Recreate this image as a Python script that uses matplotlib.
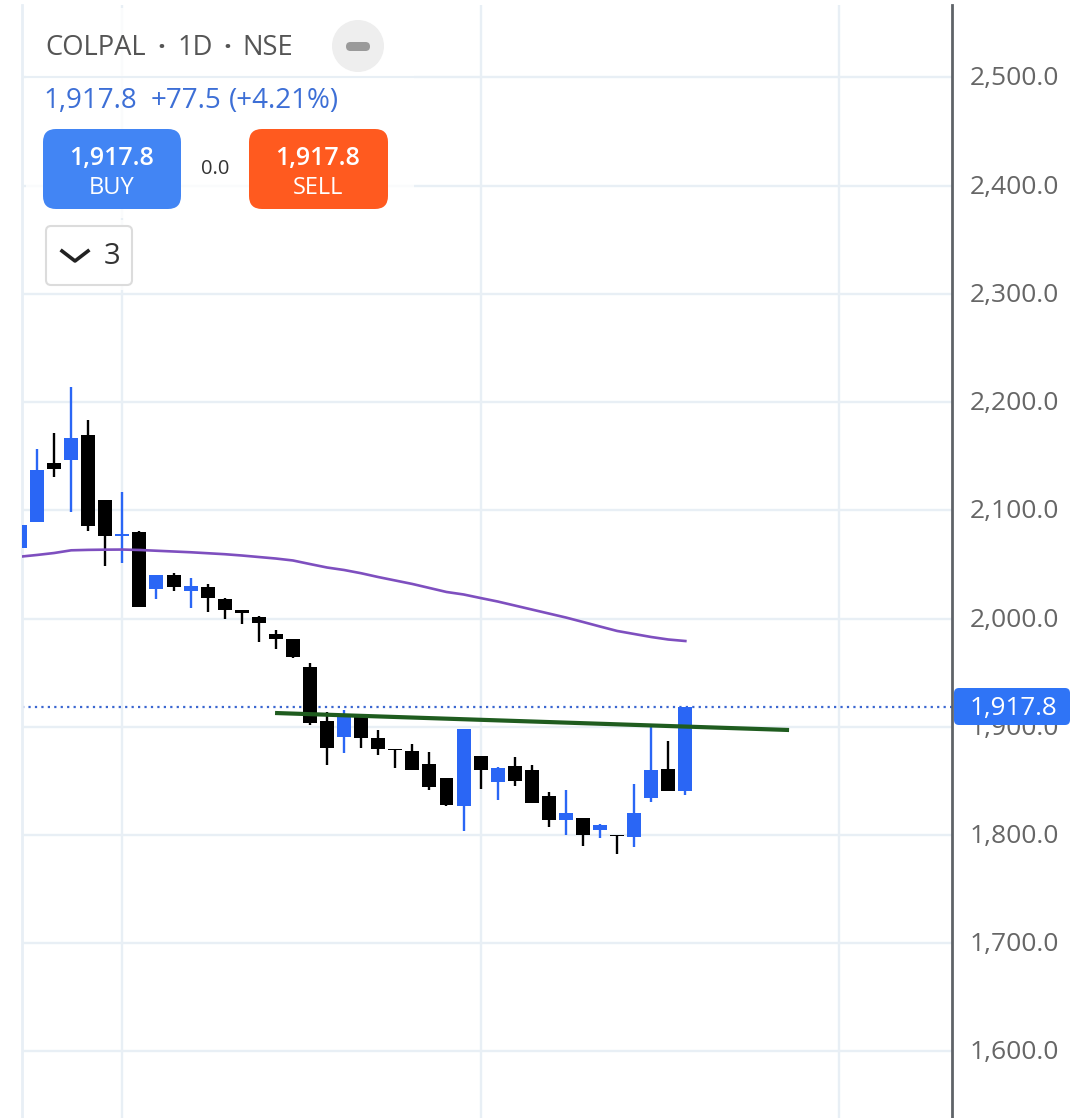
import matplotlib
matplotlib.use("Agg")
import matplotlib.pyplot as plt
from matplotlib.patches import FancyBboxPatch, Circle, Rectangle
from matplotlib.transforms import ScaledTranslation

plt.rcParams['font.family'] = ['Open Sans', 'DejaVu Sans']

BLUE = '#2a66f5'
BLACK = '#000000'
GRID = '#e8eff5'

# candle data (index matches position in the series)
opens = [2064.8, 2088.9, 2143.9, 2146.1, 2169.8, 2109.8, 2076.5, 2080.2, 2027.0, 2040.2,
         2025.7, 2029.1, 2018.0, 2008.1, 2001.4, 1985.7, 1981.3, 1955.5, 1905.3, 1890.3,
         1908.7, 1889.9, 1879.7, 1877.6, 1865.6, 1852.9, 1826.5, 1873.0, 1848.7, 1863.7,
         1860.0, 1836.0, 1814.1, 1815.7, 1804.3, 1800.0, 1797.9, 1833.9, 1861.0, 1840.3]
closes = [2086.7, 2137.2, 2137.8, 2167.0, 2085.5, 2075.9, 2078.3, 2010.4, 2040.2, 2028.8,
          2030.0, 2019.2, 2007.6, 2005.1, 1995.6, 1980.8, 1964.2, 1903.2, 1880.1, 1909.9,
          1889.3, 1879.2, 1878.2, 1859.8, 1844.6, 1827.4, 1897.9, 1859.8, 1861.9, 1850.2,
          1829.3, 1813.6, 1820.3, 1799.7, 1809.2, 1798.8, 1820.3, 1860.0, 1840.4, 1917.8]
highs = [2086.7, 2156.6, 2171.6, 2214.1, 2183.4, 2109.8, 2116.6, 2081.1, 2040.2, 2042.3,
         2037.4, 2031.9, 2018.9, 2008.1, 2002.3, 1989.4, 1981.3, 1959.2, 1913.9, 1915.5,
         1908.7, 1897.0, 1879.7, 1884.1, 1876.7, 1852.9, 1897.9, 1873.0, 1862.8, 1872.3,
         1864.7, 1840.0, 1841.6, 1815.7, 1810.2, 1800.0, 1847.1, 1901.6, 1886.8, 1917.8]
lows = [2064.8, 2088.9, 2131.0, 2098.1, 2081.1, 2048.2, 2051.0, 2010.4, 2017.7, 2025.7,
        2010.0, 2006.3, 1999.8, 1994.6, 1978.6, 1972.1, 1963.2, 1901.9, 1864.9, 1876.0,
        1880.6, 1874.2, 1862.2, 1859.8, 1841.8, 1826.5, 1804.0, 1842.8, 1832.6, 1845.5,
        1829.3, 1807.7, 1799.7, 1790.1, 1797.5, 1782.7, 1789.2, 1830.8, 1840.4, 1837.2]
moving_avg = [2057.1, 2058.7, 2060.5, 2063.0, 2063.4, 2063.6, 2063.7, 2063.3, 2062.6, 2061.9,
              2061.2, 2060.3, 2059.4, 2058.2, 2056.8, 2055.4, 2053.6, 2050.3, 2047.1, 2044.8,
              2041.8, 2038.3, 2035.1, 2031.9, 2028.2, 2024.5, 2022.2, 2018.9, 2015.7, 2012.0,
              2008.3, 2004.6, 2000.9, 1996.8, 1992.6, 1988.5, 1985.7, 1982.9, 1980.6, 1979.2]
trend_x = [14.95, 45.08]
trend_y = [1912.7, 1897.0]
last_price = 1917.8
price_ticks = [1600, 1700, 1800, 1900, 2000, 2100, 2200, 2300, 2400, 2500]
time_grid = [6, 27, 48]

W, H = 1080, 1118
fig = plt.figure(figsize=(W / 100, H / 100), dpi=100, facecolor='white')
L, R = 22, 952
ax = fig.add_axes([L / W, 0, (R - L) / W, 1])
ax.set_xlim((L - 20) / 17.06, (R - 20) / 17.06)
ymin, ymax = 1800 - (H - 835) * 0.9238, 1800 + 835 * 0.9238
ax.set_ylim(ymin, ymax)
top_of_panel = ymax - 5 * 0.9238

for s in ['top', 'bottom']:
    ax.spines[s].set_visible(False)
ax.spines['left'].set_color(GRID)
ax.spines['left'].set_linewidth(2)
ax.spines['left'].set_bounds(ymin, top_of_panel)
ax.spines['right'].set_color('#5f6368')
ax.spines['right'].set_linewidth(2)
ax.spines['right'].set_bounds(ymin, top_of_panel)
ax.xaxis.set_visible(False)
ax.yaxis.tick_right()
ax.set_yticks(price_ticks)
ax.set_yticklabels([f'{v:,.1f}' for v in price_ticks], fontsize=19, color='#666666')
ax.tick_params(axis='y', length=0, pad=13)
shift = ScaledTranslation(0, 1.5 / 100, fig.dpi_scale_trans)
for lab in ax.get_yticklabels():
    lab.set_transform(lab.get_transform() + shift)
ax.hlines(price_ticks, *ax.get_xlim(), color=GRID, lw=1.7, zorder=1)
ax.vlines(time_grid, ymin, top_of_panel, color=GRID, lw=1.7, zorder=1)

ax.axhline(last_price, color='#3a66d0', lw=1.6, ls=(0, (1, 1.9)), zorder=2)

for i, (o, c, h, l) in enumerate(zip(opens, closes, highs, lows)):
    col = BLUE if c >= o else BLACK
    ax.vlines(i, l, h, color=col, lw=1.7, zorder=3)
    ax.bar(i, abs(c - o), bottom=min(o, c), width=0.82, color=col, lw=0, zorder=3)

ax.plot(range(len(moving_avg)), moving_avg, color='#7e4fbf', lw=1.9, zorder=4)
ax.plot(trend_x, trend_y, color='#1f5c1f', lw=3, zorder=5, solid_capstyle='butt')

# overlay in pixel coordinates
ui = fig.add_axes([0, 0, 1, 1], facecolor='none')
ui.set_xlim(0, W)
ui.set_ylim(H, 0)
ui.axis('off')

ui.add_patch(Rectangle((26, 8), 388, 68, fc='white', alpha=0.8, lw=0))
ui.add_patch(Rectangle((26, 78), 388, 140, fc='white', alpha=0.8, lw=0))
ui.add_patch(Rectangle((26, 220), 110, 70, fc='white', alpha=0.8, lw=0))

def rbox(x0, y0, x1, y1, r, **kw):
    ui.add_patch(FancyBboxPatch((x0 + r, y0 + r), x1 - x0 - 2 * r, y1 - y0 - 2 * r,
                                boxstyle=f'round,pad={r},rounding_size={r}', **kw))

ui.text(45, 48, 'COLPAL', fontsize=19.7, color='#555555', va='center', ha='left')
ui.text(161, 48, '·', fontsize=19.7, color='#555555', va='center', ha='center', fontweight='bold')
ui.text(178, 48, '1D', fontsize=19.7, color='#555555', va='center', ha='left')
ui.text(227, 48, '·', fontsize=19.7, color='#555555', va='center', ha='center', fontweight='bold')
ui.text(242, 48, 'NSE', fontsize=19.7, color='#555555', va='center', ha='left')
ui.add_patch(Circle((358, 46), 26, fc='#eeeeee', lw=0))
rbox(346, 42, 370, 51, 4.5, fc='#9a9a9a', lw=0)

ui.text(43, 101, '1,917.8', fontsize=20, color='#3d6fd6', va='center', ha='left')
ui.text(151, 101, '+77.5', fontsize=20, color='#3d6fd6', va='center', ha='left')
ui.text(229, 101, '(+4.21%)', fontsize=20, color='#3d6fd6', va='center', ha='left')

rbox(43, 129, 181, 209, 13, fc='#4285f4', lw=0)
rbox(249, 129, 388, 209, 13, fc='#ff5a1f', lw=0)
ui.text(112, 158, '1,917.8', fontsize=18, fontweight='semibold', color='white', va='center', ha='center')
ui.text(112, 188, 'BUY', fontsize=17, color='white', va='center', ha='center')
ui.text(318, 158, '1,917.8', fontsize=18, fontweight='semibold', color='white', va='center', ha='center')
ui.text(318, 188, 'SELL', fontsize=17, color='white', va='center', ha='center')
ui.text(215, 169, '0.0', fontsize=14.5, color='#333333', va='center', ha='center')

rbox(46, 226, 132, 285, 5, fc='white', ec='#dcdcdc', lw=1.5)
ui.plot([62, 75, 88], [251, 261, 251], color='#222222', lw=2.6)
ui.text(112, 257, '3', fontsize=21, color='#333333', va='center', ha='center')

rbox(954, 688, 1070, 725, 5, fc='#2f74f6', lw=0)
ui.text(1014, 708, f'{last_price:,.1f}', fontsize=18.7, color='white', va='center', ha='center')

fig.savefig('out.png', dpi=100)
